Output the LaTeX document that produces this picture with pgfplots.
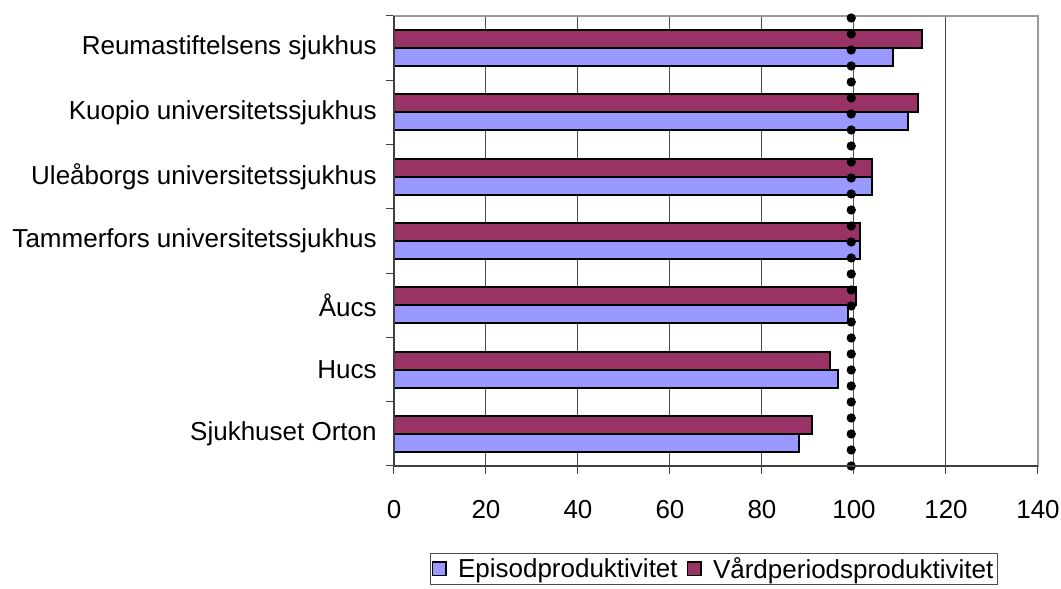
\documentclass[border=0pt]{standalone}
\usepackage{fontspec}
\setmainfont{Liberation Sans}
\usepackage{pgfplots}
\pgfplotsset{compat=1.18}
\definecolor{episod}{RGB}{153,153,255}
\definecolor{vard}{RGB}{153,51,102}
\newcommand{\lbl}{\fontsize{19.5}{23.4}\selectfont}

\begin{document}
\begin{tikzpicture}
\begin{axis}[name=ax, scale only axis, width=483pt, height=337.5pt,
  xmin=0, xmax=140, xtick={0,20,...,140},
  ymin=-0.5, ymax=6.5, ytick={0,...,6},
  yticklabels={Sjukhuset Orton, Hucs, Åucs, Tammerfors universitetssjukhus,
    Uleåborgs universitetssjukhus, Kuopio universitetssjukhus, Reumastiftelsens sjukhus},
  minor ytick={-0.5,0.5,...,6.5},
  xtick pos=bottom, ytick pos=left,
  tick align=outside, major tick length=6pt, minor tick length=6pt,
  major y tick style={draw=none},
  minor y tick style={black!75, line width=0.75pt},
  major x tick style={black!75, line width=0.75pt},
  xmajorgrids, major grid style={black!70, line width=0.75pt},
  axis line style={black!40, line width=1pt},
  tick label style={font=\lbl},
  /pgf/number format/assume math mode=true,
  yticklabel style={xshift=-3.5pt},
  xticklabel style={yshift=-16pt},
  clip=false,
  legend style={at={(0.497,0)}, anchor=north, yshift=-65pt, draw=black!70,
    line width=0.75pt, font=\lbl, inner sep=1pt, nodes={inner xsep=2pt},
    /tikz/every even column/.append style={column sep=5pt}},
  legend columns=2,
]
\addplot[xbar, bar width=13.5pt, bar shift=-6.75pt, fill=episod, draw=black, line width=1.5pt,
  legend image code/.code={\draw[fill=episod, draw=black, line width=1pt] (0pt,-5pt) rectangle (10pt,5pt); \path[draw=none, fill=none] (0pt,0pt) -- (17pt,0pt);}]
  coordinates {(88,0) (96.5,1) (98.8,2) (101.4,3) (104,4) (111.8,5) (108.4,6)};
\addplot[xbar, bar width=13.5pt, bar shift=6.75pt, fill=vard, draw=black, line width=1.5pt,
  legend image code/.code={\draw[fill=vard, draw=black, line width=1pt] (0pt,-5pt) rectangle (10pt,5pt); \path[draw=none, fill=none] (0pt,0pt) -- (17pt,0pt);}]
  coordinates {(90.9,0) (94.8,1) (100.5,2) (101.4,3) (104,4) (114,5) (114.8,6)};
\addplot[forget plot, sharp plot, black, line width=7pt, line cap=round, dash pattern=on 0pt off 12pt]
  coordinates {(99.4,-0.5) (99.4,6.5)};
\draw[black!75, line width=1pt] (rel axis cs:0,1) -- (rel axis cs:0,0) -- (rel axis cs:1,0);
\legend{Episodproduktivitet, Vårdperiodsproduktivitet}
\end{axis}
\pgfresetboundingbox
\path ([shift={(-295.5pt,-92.25pt)}]ax.south west) rectangle ([shift={(17.25pt,12pt)}]ax.north east);
\end{tikzpicture}
\end{document}
